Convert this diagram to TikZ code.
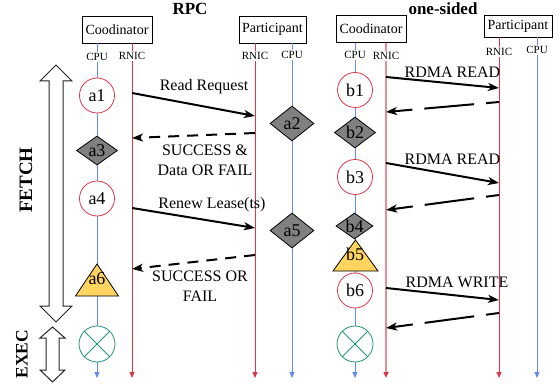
\documentclass[tikz,border=0pt]{standalone}
\usepackage{fontspec}
\setmainfont{Liberation Serif}
\usetikzlibrary{arrows.meta,shapes.geometric}

\definecolor{cpublue}{RGB}{100,140,240}
\definecolor{rnicred}{RGB}{215,55,70}
\definecolor{rnicpink}{RGB}{232,140,150}
\definecolor{opgray}{RGB}{128,128,128}
\definecolor{lockyellow}{RGB}{255,212,95}
\definecolor{execgreen}{RGB}{35,150,120}

\newcommand{\fsz}[2]{\fontsize{#1}{#2}\selectfont}

\tikzset{
  party/.style={draw, line width=0.8pt, minimum width=70pt, minimum height=27pt, inner sep=1pt, font=\fsz{14}{16}},
  lane/.style={font=\fsz{11}{13}, fill=white, inner sep=1pt},
  cpuline/.style={draw=cpublue, line width=1pt, -{Triangle[length=6pt,width=5pt]}},
  rnicline/.style={draw=rnicred, line width=1pt, -{Triangle[length=6pt,width=5pt]}},
  readop/.style={circle, draw=rnicred, fill=white, line width=0.8pt, minimum size=35pt, inner sep=0pt, font=\fsz{18}{20}},
  lockop/.style={diamond, aspect=1.4, draw, fill=opgray, line width=0.8pt, inner sep=0pt, font=\fsz{18}{20}},
  lockfill/.style={draw, fill=lockyellow, line width=0.8pt},
  execop/.style={circle, draw=execgreen, fill=white, line width=0.8pt, minimum size=36pt,
    path picture={\draw[execgreen, line width=0.8pt]
      (path picture bounding box.north west) -- (path picture bounding box.south east)
      (path picture bounding box.north east) -- (path picture bounding box.south west);}},
  req/.style={line width=2pt, -{Stealth[length=11pt,width=8pt,inset=3pt]}},
  rpcreply/.style={req, dash pattern=on 11pt off 8pt},
  rdmareply/.style={req, dash pattern=on 50pt off 12pt, dash phase=37pt},
  msg/.style={font=\fsz{16}{20}, inner sep=0pt, align=center},
  phasearrow/.style={draw=black!85, line width=1pt, fill=white},
  phaselabel/.style={rotate=90, inner sep=0pt, font=\bfseries\fsz{19}{21}},
}

\begin{document}
\begin{tikzpicture}[x=1pt, y=-1pt]
  \useasboundingbox (0,0) rectangle (560,385);

  % titles and parties
  \node[font=\bfseries\fsz{17}{19}] (rpc) at (190,9) {RPC};
  \node[font=\bfseries\fsz{17}{19}] (onesided) at (443,9) {one-sided};
  \node[party] (coordA) at (117,29.5) {Coodinator};
  \node[party, minimum width=67pt] (partA) at (272.5,29.5) {Participant};
  \node[party] (coordB) at (371,29) {Coodinator};
  \node[party, minimum width=68pt, minimum height=22pt] (partB) at (518,26) {Participant};

  % lifelines
  \foreach \n/\x/\t/\y in {cpuA/97/43/57, cpuAp/292/43/55, cpuB/355/43/55, cpuBp/537/37/50} {
    \coordinate (\n top) at (\x,\t);
    \coordinate (\n end) at (\x,378);
    \draw[cpuline] (\n top) -- (\n end);
    \node[lane] (\n) at (\x,\y) {CPU};
  }
  \foreach \n/\x/\t/\y in {rnicA/132/43/56, rnicAp/255/43/56, rnicBp/499/37/52} {
    \coordinate (\n top) at (\x,\t);
    \coordinate (\n end) at (\x,378);
    \draw[rnicline] (\n top) -- (\n end);
    \node[lane] (\n) at (\x,\y) {RNIC};
  }
  \coordinate (rnicB top) at (386,43);
  \coordinate (rnicB end) at (386,378);
  \draw[draw=rnicpink, line width=1.8pt, -{Triangle[length=6pt,width=5pt,color=rnicred]}] (rnicB top) -- (rnicB end);
  \node[lane] (rnicB) at (386,56) {RNIC};

  % phases
  \draw[phasearrow] (56,65) -- (72,81) -- (63,81) -- (63,306) -- (72,306) -- (56,322)
    -- (40,306) -- (49,306) -- (49,81) -- (40,81) -- cycle;
  \draw[phasearrow] (52.5,327) -- (65,338) -- (59,338) -- (59,370) -- (65,370) -- (52.5,382)
    -- (40,370) -- (46,370) -- (46,338) -- (40,338) -- cycle;
  \node[phaselabel] (fetch) at (26,180) {FETCH};
  \node[phaselabel, font=\bfseries\fsz{17.5}{20}] (exec) at (22,354) {EXEC};

  % RPC steps
  \node[readop] (a1) at (97,95.5) {a1};
  \node[lockop, minimum width=41pt, minimum height=29pt] (a3) at (97,150.5) {a3};
  \node[readop] (a4) at (97,198.5) {a4};
  \draw[lockfill] (75.5,296) -- (97,264) -- (118.5,296) -- cycle;
  \node[msg, font=\fsz{18}{20}] (a6) at (97,279) {a6};
  \node[execop] (xA) at (97,344) {};
  \node[lockop, minimum width=44pt, minimum height=35pt] (a2) at (292,123.5) {a2};
  \node[lockop, minimum width=44pt, minimum height=35pt] (a5) at (292,230.5) {a5};

  % one-sided steps
  \node[readop] (b1) at (355,90) {b1};
  \node[lockop, minimum width=41pt, minimum height=31pt] (b2) at (355,132.5) {b2};
  \node[readop] (b3) at (355,177) {b3};
  \node[lockop, minimum width=37pt, minimum height=26pt] (b4) at (354.5,226) {b4};
  \draw[lockfill] (333,271) -- (355.5,240) -- (378,271) -- cycle;
  \node[msg, font=\fsz{18}{20}] (b5) at (355,254) {b5};
  \node[readop] (b6) at (355,290.5) {b6};
  \node[execop] (xB) at (355,344) {};

  % messages
  \foreach \n/\x/\y in {m1s/132/93, m1e/255/116, m2s/255/133, m2e/132/138,
      m3s/132/208, m3e/255/228, m4s/255/255, m4e/132/269,
      r1s/386/77, r1e/499/88, r2s/499/102, r2e/386/112,
      r3s/386/163, r3e/499/183, r4s/499/195, r4e/386/210,
      r5s/386/288, r5e/499/300, r6s/499/313, r6e/386/328}
    \coordinate (\n) at (\x,\y);

  \draw[req] (m1s) -- (m1e);
  \draw[rpcreply] (m2s) -- (m2e);
  \draw[req] (m3s) -- (m3e);
  \draw[rpcreply] (m4s) -- (m4e);
  \draw[req] (r1s) -- (r1e);
  \draw[rdmareply] (r2s) -- (r2e);
  \draw[req] (r3s) -- (r3e);
  \draw[rdmareply] (r4s) -- (r4e);
  \draw[req] (r5s) -- (r5e);
  \draw[rdmareply] (r6s) -- (r6e);

  \node[msg] (m1t) at (204,87) {Read Request};
  \node[msg] (m2t) at (205,160) {SUCCESS \&\\Data OR FAIL};
  \node[msg] (m3t) at (212,205) {Renew Lease(ts)};
  \node[msg] (m4t) at (200,286) {SUCCESS OR\\FAIL};
  \node[msg] (r1t) at (452.5,72) {RDMA READ};
  \node[msg] (r3t) at (452.5,159) {RDMA READ};
  \node[msg] (r5t) at (457,282) {RDMA WRITE};
\end{tikzpicture}
\end{document}
